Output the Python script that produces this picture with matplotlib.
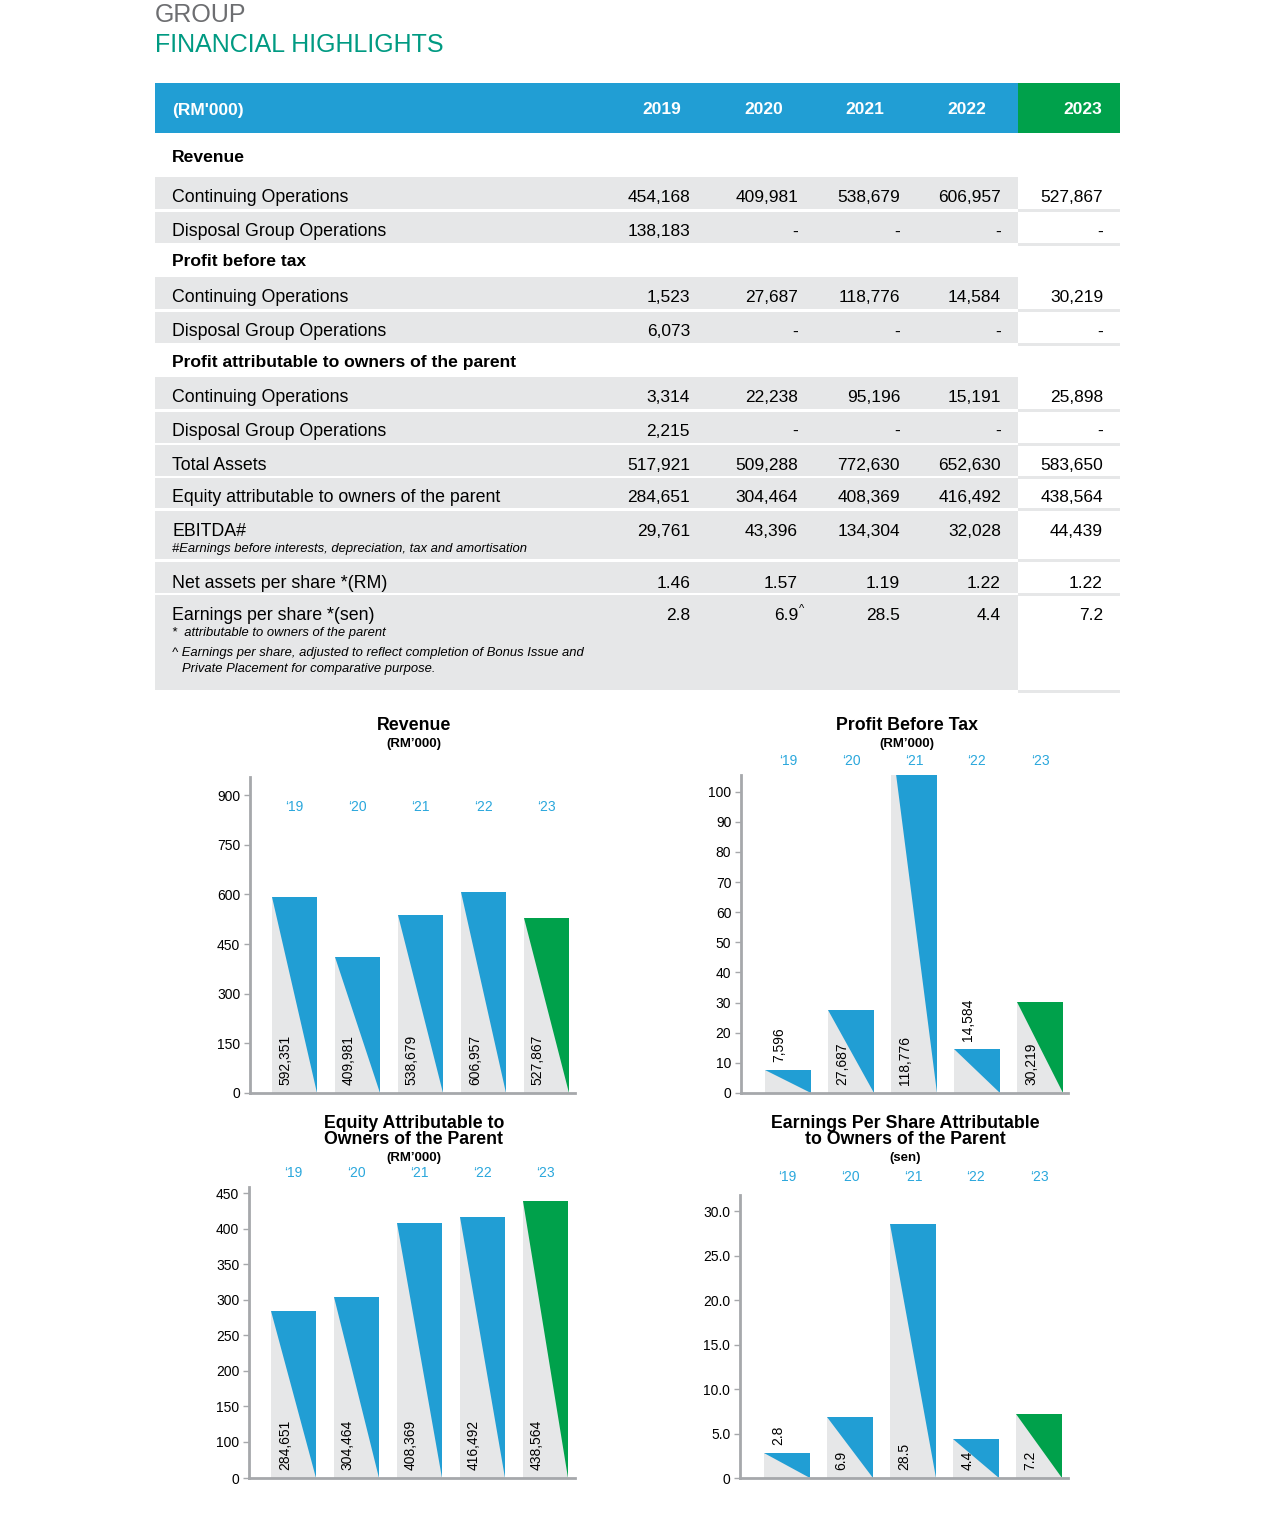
import matplotlib.pyplot as plt
import numpy as np
from matplotlib.patches import Rectangle, Polygon
from matplotlib.transforms import blended_transform_factory

plt.rcParams["font.family"] = ["Liberation Sans", "DejaVu Sans"]

# ---- table data (RM'000 unless noted) ----
years = ["2019", "2020", "2021", "2022", "2023"]
rev_cont = [454168, 409981, 538679, 606957, 527867]
rev_disp = [138183, None, None, None, None]
pbt_cont = [1523, 27687, 118776, 14584, 30219]
pbt_disp = [6073, None, None, None, None]
pat_cont = [3314, 22238, 95196, 15191, 25898]
pat_disp = [2215, None, None, None, None]
total_assets = [517921, 509288, 772630, 652630, 583650]
equity = [284651, 304464, 408369, 416492, 438564]
ebitda = [29761, 43396, 134304, 32028, 44439]
naps = [1.46, 1.57, 1.19, 1.22, 1.22]
eps = [2.8, 6.9, 28.5, 4.4, 7.2]
eps_marks = ["", "^", "", "", ""]

# ---- chart data ----
chart_years = ["\u201819", "\u201820", "\u201821", "\u201822", "\u201823"]
revenue_chart = [592351, 409981, 538679, 606957, 527867]
pbt_chart = [7596, 27687, 118776, 14584, 30219]
equity_chart = [284651, 304464, 408369, 416492, 438564]
eps_chart = [2.8, 6.9, 28.5, 4.4, 7.2]

W, H = 1275, 1521
BLUE = "#219ed4"
GREEN = "#00a14b"
BAND = "#e6e7e8"
SPINE = "#a6a8ab"
YEAR_TXT = "#2aa7dc"
FS = 12.5       # table values
FS_LAB = 12.8   # table row labels
FS_HEAD = 12.6  # bold section headings
FS_NOTE = 9.4

fig = plt.figure(figsize=(W / 100, H / 100), dpi=100)
bg = fig.add_axes([0, 0, 1, 1])
bg.set_xlim(0, W)
bg.set_ylim(H, 0)
bg.axis("off")

# heading
bg.text(155, 15, "GROUP", color="#6d6e71", fontsize=18, va="center")
bg.text(155, 45, "FINANCIAL HIGHLIGHTS", color="#009a82", fontsize=18, va="center")

# table
T_L, T_R, C23 = 155, 1120, 1018
val_right = [690, 798, 900, 1001, 1103]
head_x = [662, 764, 865, 967, 1083]

bg.add_patch(Rectangle((T_L, 83), C23 - T_L, 50, color=BLUE, lw=0))
bg.add_patch(Rectangle((C23, 83), T_R - C23, 50, color=GREEN, lw=0))
bg.text(172, 110, "(RM'000)", color="white", fontsize=FS, weight="bold", va="center")
for x, y in zip(head_x, years):
    bg.text(x, 110, y, color="white", fontsize=FS, weight="bold", ha="center", va="center")


def fmt_int(v):
    return "-" if v is None else f"{v:,}"


def fmt2(v):
    return f"{v:.2f}"


def fmt1(v):
    return f"{v:.1f}"


headings = [("Revenue", 158), ("Profit before tax", 262),
            ("Profit attributable to owners of the parent", 362)]
for txt, y in headings:
    bg.text(172, y, txt, fontsize=FS_HEAD, weight="bold", va="center")

rows = [
    ("Continuing Operations", rev_cont, fmt_int, 177, 209, 197),
    ("Disposal Group Operations", rev_disp, fmt_int, 212, 243, 232),
    ("Continuing Operations", pbt_cont, fmt_int, 277, 309, 297),
    ("Disposal Group Operations", pbt_disp, fmt_int, 312, 343, 332),
    ("Continuing Operations", pat_cont, fmt_int, 377, 409, 397),
    ("Disposal Group Operations", pat_disp, fmt_int, 412, 443, 431),
    ("Total Assets", total_assets, fmt_int, 445, 476, 465),
    ("Equity attributable to owners of the parent", equity, fmt_int, 478, 508, 498),
    ("EBITDA#", ebitda, fmt_int, 511, 559, 531),
    ("Net assets per share *(RM)", naps, fmt2, 562, 593, 583),
    ("Earnings per share *(sen)", eps, fmt1, 595, 690, 615),
]
for label, vals, fmt, top, bot, ty in rows:
    bg.add_patch(Rectangle((T_L, top), C23 - T_L, bot - top, color=BAND, lw=0))
    bg.add_patch(Rectangle((C23, bot), T_R - C23, 2.5, color=BAND, lw=0))
    bg.text(172, ty, label, fontsize=FS_LAB, va="center")
    for x, v in zip(val_right, vals):
        bg.text(x, ty, fmt(v), fontsize=FS, ha="right", va="center")

for x, m in zip(val_right, eps_marks):
    if m:
        bg.text(x + 1, 609, m, fontsize=8, ha="left", va="center")

bg.text(172, 549, "#Earnings before interests, depreciation, tax and amortisation",
        fontsize=FS_NOTE, style="italic", va="center")
bg.text(172, 633, "*  attributable to owners of the parent", fontsize=FS_NOTE, style="italic", va="center")
bg.text(172, 653, "^ Earnings per share, adjusted to reflect completion of Bonus Issue and",
        fontsize=FS_NOTE, style="italic", va="center")
bg.text(182, 669, "Private Placement for comparative purpose.", fontsize=FS_NOTE,
        style="italic", va="center")

# chart titles
titles = [
    (414, ["Revenue"], [726], ("(RM\u2019000)", 744)),
    (907, ["Profit Before Tax"], [726], ("(RM\u2019000)", 744)),
    (414, ["Equity Attributable to", "Owners of the Parent"], [1124, 1140], ("(RM\u2019000)", 1158)),
    (905, ["Earnings Per Share Attributable", "to Owners of the Parent"], [1124, 1140],
     ("(sen)", 1158)),
]
for cx, lines, ys, sub in titles:
    for txt, y in zip(lines, ys):
        bg.text(cx, y, txt, fontsize=12.8, weight="bold", ha="center", va="center")
    bg.text(cx, sub[1], sub[0], fontsize=9.5, weight="bold", ha="center", va="center")

BAR_W = 0.72
STEP_PX = 63.0


def char_px(s):
    # rough pixel length of a 10pt Arial-like label
    return sum(3.9 if c in ",." else 7.7 for c in s)


# equity axis is broken: 0-100 squeezed into the same space as one 50 step
def eq_fwd(v):
    v = np.asarray(v, dtype=float)
    return np.where(v < 100, v * 0.36, 36 + 0.708 * (v - 100))


def eq_inv(p):
    p = np.asarray(p, dtype=float)
    return np.where(p < 36, p / 0.36, 100 + (p - 36) / 0.708)


def draw_chart(box, x_left, ymax, ticks, ticklabels, values, labels, year_frac, scale=None):
    x0, x1, yz, yt = box
    ax = fig.add_axes([x0 / W, 1 - yz / H, (x1 - x0) / W, (yz - yt) / H])
    if scale is not None:
        ax.set_yscale("function", functions=scale)
        to_px = lambda v: float(scale[0](v)) / float(scale[0](ymax)) * (yz - yt)
    else:
        to_px = lambda v: v / ymax * (yz - yt)
    xs = np.arange(len(values))
    ax.set_xlim(x_left, x_left + (x1 - x0) / STEP_PX)
    ax.set_ylim(0, ymax)
    ax.bar(xs, values, width=BAR_W, color=BAND, lw=0, zorder=1)
    for i, (x, v, lab) in enumerate(zip(xs, values, labels)):
        c = GREEN if i == len(values) - 1 else BLUE
        ax.add_patch(Polygon([(x - BAR_W / 2, v), (x + BAR_W / 2, v), (x + BAR_W / 2, 0)],
                             closed=True, color=c, lw=0, zorder=2))
        lx = x - BAR_W / 2 + 14 / STEP_PX
        inside = to_px(v) >= char_px(lab) + 14
        ax.annotate(lab, xy=(lx, 0 if inside else min(v, ymax)), xytext=(0, 6),
                    textcoords="offset points", rotation=90, ha="center", va="bottom",
                    fontsize=10, zorder=3, annotation_clip=False)
    trans = blended_transform_factory(ax.transData, ax.transAxes)
    for x, yl in zip(xs, chart_years):
        ax.text(x, year_frac, yl, transform=trans, ha="center", va="center",
                color=YEAR_TXT, fontsize=10, clip_on=False)
    for s in ("top", "right"):
        ax.spines[s].set_visible(False)
    for s in ("left", "bottom"):
        ax.spines[s].set_color(SPINE)
        ax.spines[s].set_linewidth(2)
    ax.set_xticks([])
    ax.set_yticks(ticks)
    ax.set_yticklabels(ticklabels)
    ax.minorticks_off()
    ax.tick_params(axis="y", length=4, width=1, color=SPINE, labelsize=10, pad=3)
    ax.set_facecolor("none")
    return ax


rev_ticks = [0, 150, 300, 450, 600, 750, 900]
draw_chart((250, 575, 1093, 777), -0.706, 955, rev_ticks, [str(t) for t in rev_ticks],
           [v / 1000 for v in revenue_chart], [f"{v:,}" for v in revenue_chart], 0.905)

pbt_ticks = list(range(0, 101, 10))
draw_chart((741, 1068, 1093, 775), -0.746, 105.5, pbt_ticks, [str(t) for t in pbt_ticks],
           [v / 1000 for v in pbt_chart], [f"{v:,}" for v in pbt_chart], 1.044)

eq_ticks = [0, 100, 150, 200, 250, 300, 350, 400, 450]
draw_chart((249, 575, 1478, 1187), -0.706, 458.8, eq_ticks, [str(t) for t in eq_ticks],
           [v / 1000 for v in equity_chart], [f"{v:,}" for v in equity_chart], 1.048,
           scale=(eq_fwd, eq_inv))

eps_ticks = [0, 5, 10, 15, 20, 25, 30]
draw_chart((740, 1068, 1478, 1195), -0.746, 31.8, eps_ticks,
           ["0"] + [f"{t:.1f}" for t in eps_ticks[1:]],
           eps_chart, [f"{v:.1f}" for v in eps_chart], 1.064)

fig.savefig("out.png", dpi=100)
